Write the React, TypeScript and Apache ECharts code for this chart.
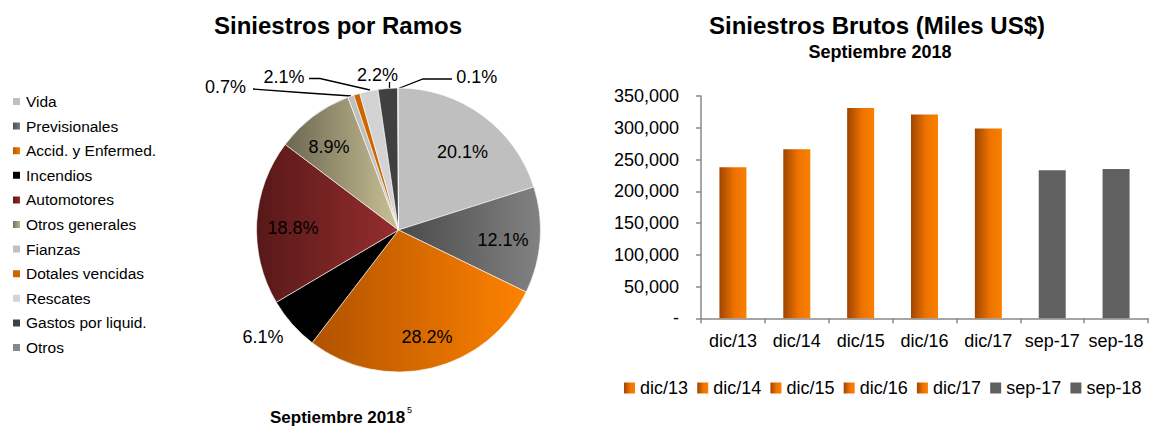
import React, { useEffect, useRef } from "react";
import * as echarts from "echarts";

// ---------- data ----------
const pieNames = [
  "Vida",
  "Previsionales",
  "Accid. y Enfermed.",
  "Incendios",
  "Automotores",
  "Otros generales",
  "Fianzas",
  "Dotales vencidas",
  "Rescates",
  "Gastos por liquid.",
  "Otros",
];
const pieValues = [20.1, 12.1, 28.2, 6.1, 18.8, 8.9, 0.7, 0.7, 2.1, 2.2, 0.1];

const barCategories = ["dic/13", "dic/14", "dic/15", "dic/16", "dic/17", "sep-17", "sep-18"];
const barValues = [238000, 266000, 331000, 321000, 299000, 233000, 235000];

const yMin = 0;
const yMax = 350000;
const yStep = 50000;

// ---------- styles ----------
const FONT = 'Arial, "Liberation Sans", Helvetica, sans-serif';

const grad = (a: string, b: string) =>
  new echarts.graphic.LinearGradient(0, 0, 1, 0, [
    { offset: 0, color: a },
    { offset: 1, color: b },
  ]);

const pieColors = [
  "#bfbfbf",
  grad("#4a4a4a", "#828282"),
  grad("#b05200", "#ff8200"),
  "#000000",
  grad("#581818", "#962e2e"),
  grad("#6c6650", "#c9c196"),
  "#c0c0c0",
  "#cc6600",
  "#d3d3d3",
  "#404040",
  "#888888",
];

const orangeBar = () =>
  new echarts.graphic.LinearGradient(0, 0, 1, 0, [
    { offset: 0, color: "#9e4600" },
    { offset: 0.55, color: "#ee7200" },
    { offset: 1, color: "#fa8000" },
  ]);
const grayBar = "#606060";

// label placement for the pie (layout only)
const pieLabelPos: Record<number, { x: number; y: number; line?: number[][] }> = {
  0: { x: 462.5, y: 152 },
  1: { x: 503, y: 240 },
  2: { x: 427, y: 337 },
  3: { x: 263, y: 337 },
  4: { x: 293, y: 228 },
  5: { x: 329, y: 147 },
  6: { x: 225.5, y: 87, line: [[351, 96], [300, 92.5], [253, 89]] },
  8: { x: 284, y: 77, line: [[370, 90], [320, 78.5], [309, 78.5]] },
  9: { x: 377.5, y: 75, line: [[389.5, 88.5], [389.5, 85], [389.5, 82]] },
  10: { x: 476.7, y: 77, line: [[398.5, 88.5], [423, 79], [452, 79]] },
};

const fmt = (v: number) => (v === 0 ? "-" : v.toLocaleString("en-US"));

export default function App() {
  const ref = useRef<HTMLDivElement>(null);

  useEffect(() => {
    if (!ref.current) return;
    const chart = echarts.init(ref.current, undefined, { renderer: "svg" });

    const pieData = pieNames.map((name, i) => {
      const hidden = i === 7;
      const withLine = !!(pieLabelPos[i] && pieLabelPos[i].line);
      return {
        name,
        value: pieValues[i],
        itemStyle: { color: pieColors[i] },
        label: { show: !hidden },
        labelLine: { show: withLine },
      };
    });

    const barSeries = barCategories.map((name, i) => ({
      name,
      type: "bar",
      stack: "all",
      barWidth: 27,
      xAxisIndex: 0,
      yAxisIndex: 0,
      data: barValues.map((v, j) => (j === i ? v : "-")),
      itemStyle: { color: i < 5 ? orangeBar() : grayBar },
    }));

    const option: any = {
      animation: false,
      backgroundColor: "#ffffff",
      textStyle: { fontFamily: FONT },
      legend: [
        {
          data: pieNames,
          orient: "vertical",
          left: 11,
          top: 93.5,
          padding: 0,
          icon: "rect",
          itemWidth: 9,
          itemHeight: 9,
          itemGap: 8.6,
          selectedMode: false,
          textStyle: { fontSize: 15.5, lineHeight: 16, color: "#000", fontFamily: FONT },
        },
        {
          data: barCategories,
          orient: "horizontal",
          left: 624,
          top: 379,
          padding: 0,
          width: 525,
          icon: "rect",
          itemWidth: 11,
          itemHeight: 11,
          itemGap: 9.2,
          selectedMode: false,
          textStyle: { fontSize: 18, lineHeight: 18, color: "#000", fontFamily: FONT },
        },
      ],
      grid: {
        left: 701,
        top: 96,
        right: 1,
        height: 222.3,
        containLabel: false,
        outerBoundsMode: "none",
      },
      xAxis: {
        type: "category",
        data: barCategories,
        boundaryGap: true,
        axisLine: { show: true, lineStyle: { color: "#888888", width: 1.5 } },
        axisTick: { show: true, length: 5, interval: 0, lineStyle: { color: "#888888", width: 1.5 } },
        axisLabel: { fontSize: 18, color: "#000", margin: 14, interval: 0, fontFamily: FONT },
        splitLine: { show: false },
      },
      yAxis: {
        type: "value",
        min: yMin,
        max: yMax,
        interval: yStep,
        axisLine: { show: true, lineStyle: { color: "#888888", width: 1.5 } },
        axisTick: { show: true, length: 5, lineStyle: { color: "#888888", width: 1.5 } },
        axisLabel: { fontSize: 18, color: "#000", margin: 22, formatter: fmt, fontFamily: FONT },
        splitLine: { show: false },
      },
      series: [
        {
          type: "pie",
          center: [398.5, 230],
          radius: 142,
          startAngle: 90,
          clockwise: true,
          avoidLabelOverlap: false,
          data: pieData,
          itemStyle: { borderColor: "#ffffff", borderWidth: 0.6 },
          label: {
            position: "outside",
            formatter: (p: any) => p.value.toFixed(1) + "%",
            fontSize: 18,
            color: "#000",
            fontFamily: FONT,
          },
          labelLine: { show: false, lineStyle: { color: "#000", width: 1.3 } },
          labelLayout: (params: any) => {
            const pos = pieLabelPos[params.dataIndex];
            if (!pos) return {};
            const res: any = { x: pos.x, y: pos.y, align: "center", verticalAlign: "middle" };
            if (pos.line) res.labelLinePoints = pos.line;
            return res;
          },
          emphasis: { disabled: true },
        },
        ...barSeries,
      ],
      graphic: [
        {
          type: "text",
          x: 338,
          y: 13,
          style: {
            text: "Siniestros por Ramos",
            fontSize: 24,
            fontWeight: "bold",
            fontFamily: FONT,
            fill: "#000",
            align: "center",
            textAlign: "center",
            verticalAlign: "top",
            textVerticalAlign: "top",
          },
        },
        {
          type: "text",
          x: 877,
          y: 13,
          style: {
            text: "Siniestros Brutos (Miles US$)",
            fontSize: 24,
            fontWeight: "bold",
            fontFamily: FONT,
            fill: "#000",
            align: "center",
            textAlign: "center",
            verticalAlign: "top",
            textVerticalAlign: "top",
          },
        },
        {
          type: "text",
          x: 880,
          y: 42.6,
          style: {
            text: "Septiembre 2018",
            fontSize: 18,
            fontWeight: "bold",
            fontFamily: FONT,
            fill: "#000",
            align: "center",
            textAlign: "center",
            verticalAlign: "top",
            textVerticalAlign: "top",
          },
        },
        {
          type: "text",
          x: 270,
          y: 408.5,
          style: {
            text: "Septiembre 2018",
            fontSize: 17,
            fontWeight: "bold",
            fontFamily: FONT,
            fill: "#000",
            align: "left",
            textAlign: "left",
            verticalAlign: "top",
            textVerticalAlign: "top",
          },
        },
        {
          type: "text",
          x: 407,
          y: 405.7,
          style: {
            text: "5",
            fontSize: 9,
            fontFamily: FONT,
            fill: "#000",
            align: "left",
            textAlign: "left",
            verticalAlign: "top",
            textVerticalAlign: "top",
          },
        },
      ],
    };

    chart.setOption(option);
    return () => chart.dispose();
  }, []);

  return (
    <div
      ref={ref}
      style={{ position: "fixed", left: 0, top: 0, width: 1149, height: 427 }}
    />
  );
}
